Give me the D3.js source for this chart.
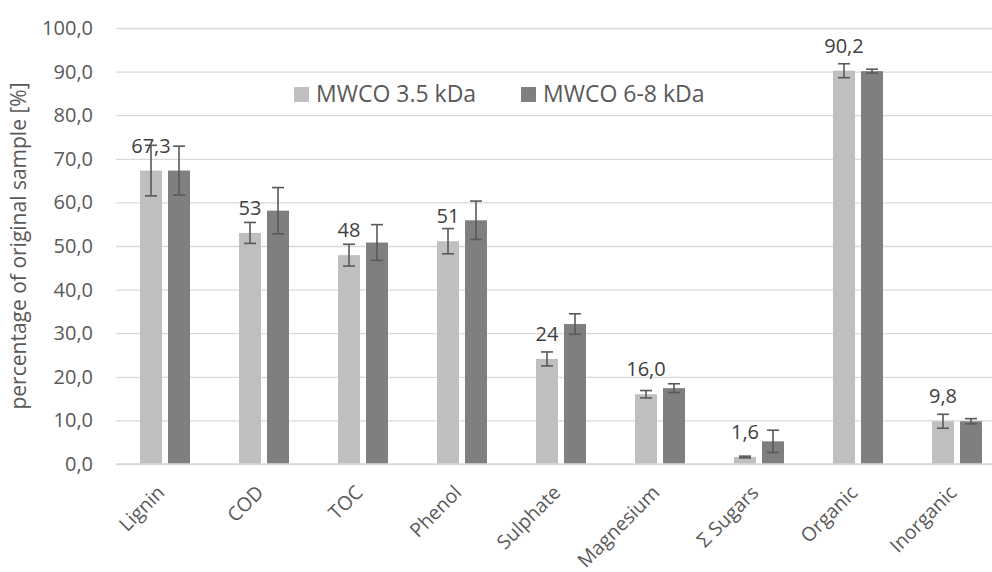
<!DOCTYPE html>
<html>
<head>
<meta charset="utf-8">
<script src="https://cdn.jsdelivr.net/npm/d3@7"></script>
<style>
  body { margin: 0; background: #fff; }
  svg { display: block; font-family: "Open Sans", sans-serif; }
  .grid line { stroke: #d9d9d9; stroke-width: 1.3; }
  .grid path { display: none; }
  .tick text { fill: #595959; }
</style>
</head>
<body>
<script>
// data
var categories = ["Lignin", "COD", "TOC", "Phenol", "Sulphate", "Magnesium", "\u03a3 Sugars", "Organic", "Inorganic"];
var seriesNames = ["MWCO 3.5 kDa", "MWCO 6-8 kDa"];
var light = [67.3, 53.0, 47.9, 51.1, 24.1, 16.0, 1.6, 90.2, 9.8];
var lightErr = [5.8, 2.4, 2.5, 2.9, 1.6, 0.85, 0.2, 1.6, 1.6];
var dark = [67.3, 58.1, 50.8, 55.9, 32.1, 17.4, 5.2, 90.1, 9.8];
var darkErr = [5.6, 5.3, 4.1, 4.4, 2.35, 1.0, 2.55, 0.45, 0.6];
var valueLabels = ["67,3", "53", "48", "51", "24", "16,0", "1,6", "90,2", "9,8"];
var yTicks = [0, 10, 20, 30, 40, 50, 60, 70, 80, 90, 100];

var colors = ["#bfbfbf", "#7f7f7f"];
var W = 992, H = 572;

var svg = d3.select("body").append("svg")
  .attr("width", W)
  .attr("height", H);

// scales
var x0 = d3.scaleBand().domain(categories).range([115.5, 1006.5]);
var x1 = d3.scaleBand().domain([0, 1]).range([24.5, 74.5]).paddingInner(2 - 50 / 28);
var y = d3.scaleLinear().domain([0, 100]).range([464, 28]);

var fmt = function(d) { return d3.format(".1f")(d).replace(".", ","); };

// y axis with gridlines
var gy = svg.append("g")
  .attr("class", "grid")
  .attr("transform", "translate(116,0)")
  .call(d3.axisLeft(y).tickValues(yTicks).tickFormat(fmt)
    .tickSizeInner(-(W - 116)).tickSizeOuter(0).tickPadding(23));
gy.attr("font-family", null).attr("font-size", null);
gy.selectAll("text").style("font-size", "20px");

// rows: one group per category
var rows = categories.map(function(c, i) {
  return [
    {cat: c, s: 0, v: light[i], e: lightErr[i]},
    {cat: c, s: 1, v: dark[i], e: darkErr[i]}
  ];
});

var groups = svg.selectAll("g.cat")
  .data(rows)
  .enter().append("g")
  .attr("class", "cat")
  .attr("transform", function(d) { return "translate(" + x0(d[0].cat) + ",0)"; });

groups.selectAll("rect")
  .data(function(d) { return d; })
  .enter().append("rect")
  .attr("x", function(d) { return x1(d.s); })
  .attr("width", x1.bandwidth())
  .attr("y", function(d) { return y(d.v); })
  .attr("height", function(d) { return y(0) - y(d.v); })
  .attr("fill", function(d) { return colors[d.s]; });

// axis base line
svg.append("line")
  .attr("x1", 116).attr("x2", W)
  .attr("y1", y(0)).attr("y2", y(0))
  .attr("stroke", "#d9d9d9").attr("stroke-width", 1.5);

// error bars
var err = groups.selectAll("g.err")
  .data(function(d) { return d; })
  .enter().append("g")
  .attr("class", "err")
  .attr("stroke", "#595959")
  .attr("stroke-width", 1.6);

err.append("line")
  .attr("x1", function(d) { return x1(d.s) + x1.bandwidth() / 2; })
  .attr("x2", function(d) { return x1(d.s) + x1.bandwidth() / 2; })
  .attr("y1", function(d) { return y(d.v + d.e); })
  .attr("y2", function(d) { return y(d.v - d.e); });

[1, -1].forEach(function(sign) {
  err.append("line")
    .attr("x1", function(d) { return x1(d.s) + x1.bandwidth() / 2 - 6; })
    .attr("x2", function(d) { return x1(d.s) + x1.bandwidth() / 2 + 6; })
    .attr("y1", function(d) { return y(d.v + sign * d.e); })
    .attr("y2", function(d) { return y(d.v + sign * d.e); });
});

// value labels above the light bars
svg.selectAll("text.val")
  .data(categories)
  .enter().append("text")
  .attr("class", "val")
  .attr("x", function(c) { return x0(c) + x1(0) + x1.bandwidth() / 2; })
  .attr("y", function(c, i) { return y(light[i]) - 18; })
  .attr("text-anchor", "middle")
  .style("font-size", "20px")
  .attr("fill", "#404040")
  .text(function(c, i) { return valueLabels[i]; });

// x axis labels
var gx = svg.append("g")
  .attr("transform", "translate(0," + y(0) + ")")
  .call(d3.axisBottom(x0).tickSize(0).tickPadding(0));
gx.attr("font-family", null).attr("font-size", null);
gx.select(".domain").remove();
gx.selectAll("text")
  .style("font-size", "19.5px")
  .attr("text-anchor", "end")
  .attr("dy", "0.35em")
  .attr("transform", "translate(-4,25) rotate(-45)");

// y axis title
svg.append("text")
  .attr("transform", "translate(26," + (y(50)) + ") rotate(-90)")
  .attr("text-anchor", "middle")
  .style("font-size", "21px")
  .attr("fill", "#595959")
  .text("percentage of original sample [%]");

// legend
var legendX = [294, 521];
var legend = svg.selectAll("g.legend")
  .data(seriesNames)
  .enter().append("g")
  .attr("class", "legend")
  .attr("transform", function(d, i) { return "translate(" + legendX[i] + ",87)"; });
legend.append("rect")
  .attr("width", 15).attr("height", 15)
  .attr("fill", function(d, i) { return colors[i]; });
legend.append("text")
  .attr("x", 22).attr("y", 15)
  .style("font-size", "23px")
  .attr("fill", "#595959")
  .text(function(d) { return d; });
</script>
</body>
</html>
